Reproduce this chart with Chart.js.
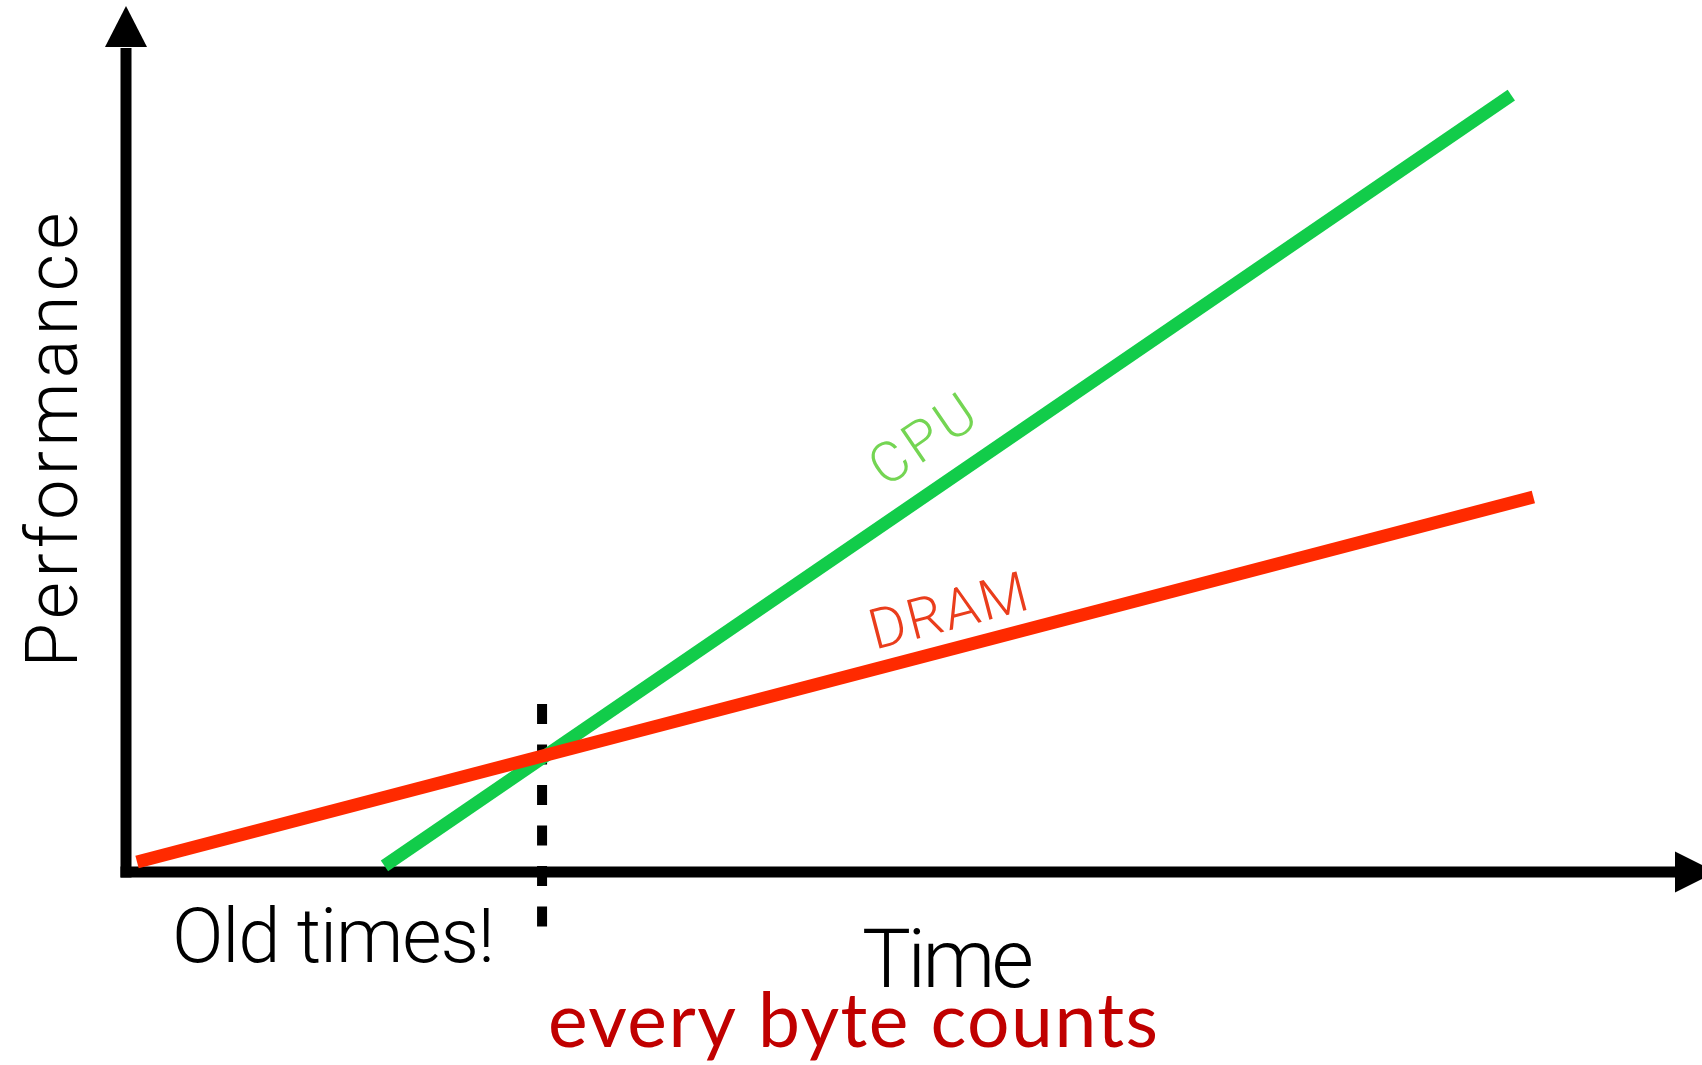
<!DOCTYPE html>
<html><head><meta charset="utf-8">
<script src="https://cdn.jsdelivr.net/npm/chart.js@4"></script>
<style>html,body{margin:0;padding:0;background:#fff;overflow:hidden}#wrap{width:1702px;height:1065px;position:relative}canvas{display:block}</style>
</head><body><div id="wrap"><canvas id="c" width="1702" height="1065"></canvas></div>
<script>
// ---- data ----
const timeRange = [0, 100];
const perfRange = [0, 100];
const cpuTime = [16.4, 87.9];
const cpuPerf = [0.7, 89.7];
const dramTime = [0.7, 89.3];
const dramPerf = [1.15, 43.3];
const crossoverTime = [26.4, 26.4];
const crossoverPerf = [19.4, -6.3];
const seriesLabels = ['CPU', 'DRAM'];
const axisTitles = ['Time', 'Performance'];
const annotationText = 'Old times!';
const captionText = 'every byte counts';

const toPts = (xs, ys) => xs.map((x, i) => ({x: x, y: ys[i]}));

const LIGHT = '300 {s}px Roboto, "Liberation Sans", Arial, sans-serif';
function fnt(tpl, s){ return tpl.replace('{s}', s); }

function drawFit(ctx, text, font, size, targetW, x, y, angle, color, centered){
  ctx.save();
  ctx.translate(x, y);
  if (angle) ctx.rotate(angle);
  ctx.font = fnt(font, size);
  ctx.letterSpacing = '0px';
  const w0 = ctx.measureText(text).width;
  const ls = (targetW - w0) / Math.max(1, text.length - 1);
  ctx.letterSpacing = ls + 'px';
  ctx.fillStyle = color;
  ctx.textAlign = 'left';
  ctx.textBaseline = 'alphabetic';
  if (centered) ctx.fillText(text, -targetW / 2, size * 0.71 / 2);
  else ctx.fillText(text, 0, 0);
  ctx.restore();
}

const axesPlugin = {
  id: 'axesArrows',
  beforeDatasetsDraw(chart){
    const ctx = chart.ctx, xs = chart.scales.x, ys = chart.scales.y, a = chart.chartArea;
    const ox = xs.getPixelForValue(timeRange[0]);
    const oy = ys.getPixelForValue(perfRange[0]);
    ctx.save();
    ctx.fillStyle = '#000';
    ctx.strokeStyle = '#000';
    ctx.lineWidth = 11;
    ctx.lineCap = 'butt';
    // y axis shaft
    ctx.beginPath(); ctx.moveTo(ox, oy + 5.5); ctx.lineTo(ox, a.top + 42); ctx.stroke();
    // y arrow head
    ctx.beginPath(); ctx.moveTo(ox, a.top); ctx.lineTo(ox - 21, a.top + 41); ctx.lineTo(ox + 21, a.top + 41); ctx.closePath(); ctx.fill();
    // x axis shaft
    ctx.beginPath(); ctx.moveTo(ox - 5.5, oy); ctx.lineTo(a.right - 26, oy); ctx.stroke();
    // x arrow head
    ctx.beginPath(); ctx.moveTo(a.right + 14, oy); ctx.lineTo(a.right - 27, oy - 20.5); ctx.lineTo(a.right - 27, oy + 20.5); ctx.closePath(); ctx.fill();
    ctx.restore();
  },
  afterDatasetsDraw(chart){
    const ctx = chart.ctx, xs = chart.scales.x, ys = chart.scales.y;
    const ang = (tx, py) => Math.atan2(ys.getPixelForValue(py[1]) - ys.getPixelForValue(py[0]), xs.getPixelForValue(tx[1]) - xs.getPixelForValue(tx[0]));
    // rotated series labels
    drawFit(ctx, seriesLabels[0], LIGHT, 56, 116, 922, 439, ang(cpuTime, cpuPerf), '#74d553', true);
    drawFit(ctx, seriesLabels[1], LIGHT, 56, 162, 948, 610, ang(dramTime, dramPerf), '#ea3d1c', true);
    // axis titles
    drawFit(ctx, axisTitles[1], LIGHT, 72, 455, 51, 440, -Math.PI / 2, '#000', true);
    drawFit(ctx, axisTitles[0], LIGHT, 82, 172, 862, 987, 0, '#000', false);
    drawFit(ctx, annotationText, LIGHT, 76, 323, 172, 962, 0, '#000', false);
    drawFit(ctx, captionText, '{s}px Lato, "Open Sans", sans-serif', 75, 610, 548, 1047, 0, '#c00000', false);
  }
};

new Chart(document.getElementById('c'), {
  type: 'line',
  data: {
    datasets: [
      { label: seriesLabels[1], data: toPts(dramTime, dramPerf), borderColor: '#ff2a00', borderWidth: 13, pointRadius: 0, borderCapStyle: 'butt', clip: false },
      { label: seriesLabels[0], data: toPts(cpuTime, cpuPerf), borderColor: '#12cc4a', borderWidth: 13, pointRadius: 0, borderCapStyle: 'butt', clip: false },
      { label: 'crossover', data: toPts(crossoverTime, crossoverPerf), borderColor: '#000', borderWidth: 10, borderDash: [20, 20.5], pointRadius: 0, borderCapStyle: 'butt', clip: false }
    ]
  },
  options: {
    responsive: false,
    animation: false,
    parsing: true,
    layout: { padding: { left: 126, top: 6, right: 0, bottom: 193 } },
    plugins: { legend: { display: false }, tooltip: { enabled: false } },
    scales: {
      x: { type: 'linear', min: timeRange[0], max: timeRange[1], display: false },
      y: { type: 'linear', min: perfRange[0], max: perfRange[1], display: false }
    }
  },
  plugins: [axesPlugin]
});
</script>
</body></html>
